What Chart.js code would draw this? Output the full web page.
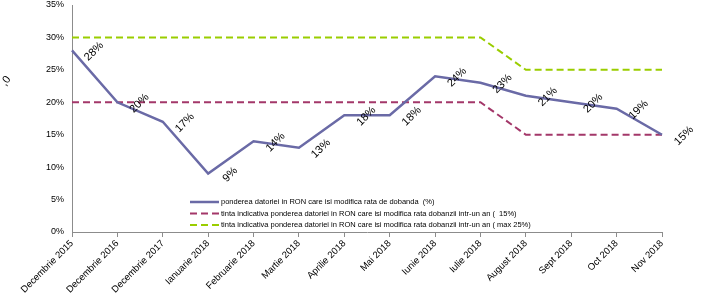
<!DOCTYPE html>
<html lang="ro">
<head>
    <meta charset="UTF-8">
    <script src="https://cdn.jsdelivr.net/npm/chart.js@4.4.0/dist/chart.umd.min.js"></script>
    <title>Ponderea datoriei</title>
    <style>
        body { margin: 0; background: #fff; }
        #wrap { width: 711px; height: 293px; position: relative; }
    </style>
</head>
<body>
    <div id="wrap"><canvas id="myChart" width="711" height="293"></canvas></div>

    <script>
        const luni = ['Decembrie 2015', 'Decembrie 2016', 'Decembrie 2017', 'Ianuarie 2018', 'Februarie 2018',
            'Martie 2018', 'Aprilie 2018', 'Mai 2018', 'Iunie 2018', 'Iulie 2018', 'August 2018',
            'Sept 2018', 'Oct 2018', 'Nov 2018']
        const ponderea = [28, 20, 17, 9, 14, 13, 18, 18, 24, 23, 21, 20, 19, 15]
        const tinta15 = [20, 20, 20, 20, 20, 20, 20, 20, 20, 20, 15, 15, 15, 15]
        const tinta25 = [30, 30, 30, 30, 30, 30, 30, 30, 30, 30, 25, 25, 25, 25]
        const yTicks = [0, 5, 10, 15, 20, 25, 30, 35]

        const etichete = [
            'ponderea datoriei in RON care isi modifica rata de dobanda  (%)',
            'tinta indicativa ponderea datoriei in RON care isi modifica rata dobanzii intr-un an (  15%)',
            'tinta indicativa ponderea datoriei in RON care isi modifica rata dobanzii intr-un an ( max 25%)'
        ]

        const font = 'Liberation Sans, Arial, sans-serif'

        // etichete cu valori, rotite, la dreapta punctului
        const valoriPlugin = {
            id: 'valori',
            afterDatasetsDraw(chart) {
                const ctx = chart.ctx
                const meta = chart.getDatasetMeta(0)
                ctx.save()
                ctx.font = '11px ' + font
                ctx.fillStyle = '#000'
                ctx.textAlign = 'center'
                ctx.textBaseline = 'middle'
                meta.data.forEach((pt, i) => {
                    ctx.save()
                    ctx.translate(pt.x + 22, pt.y + 1)
                    ctx.rotate(-Math.PI / 4)
                    ctx.fillText(ponderea[i] + '%', 0, 0)
                    ctx.restore()
                })
                // rest de titlu taiat in stanga
                ctx.translate(6, 81)
                ctx.rotate(-Math.PI * 0.3)
                ctx.font = '11px ' + font
                ctx.fillText(',0', 0, 0)
                ctx.restore()
            }
        }

        // legenda in interiorul graficului
        const legendaPlugin = {
            id: 'legenda',
            afterDraw(chart) {
                const ctx = chart.ctx
                ctx.save()
                ctx.font = '7.5px ' + font
                ctx.textBaseline = 'middle'
                chart.data.datasets.forEach((ds, i) => {
                    const y = 202 + i * 11.5
                    ctx.beginPath()
                    ctx.strokeStyle = ds.borderColor
                    ctx.lineWidth = ds.borderWidth
                    ctx.setLineDash(ds.borderDash || [])
                    ctx.moveTo(190, y)
                    ctx.lineTo(219, y)
                    ctx.stroke()
                    ctx.setLineDash([])
                    ctx.fillStyle = '#000'
                    ctx.fillText(etichete[i], 221, y)
                })
                ctx.restore()
            }
        }

        const ctx = document.getElementById('myChart').getContext('2d')
        const myChart = new Chart(ctx, {
            type: 'line',
            data: {
                labels: luni,
                datasets: [{
                    label: etichete[0],
                    data: ponderea,
                    borderColor: '#6a6aa6',
                    borderWidth: 2.5,
                    pointRadius: 0,
                    tension: 0
                }, {
                    label: etichete[1],
                    data: tinta15,
                    borderColor: '#a33769',
                    borderWidth: 2,
                    borderDash: [7, 4],
                    pointRadius: 0,
                    tension: 0
                }, {
                    label: etichete[2],
                    data: tinta25,
                    borderColor: '#9acd00',
                    borderWidth: 2,
                    borderDash: [7, 4],
                    pointRadius: 0,
                    tension: 0
                }]
            },
            options: {
                responsive: false,
                animation: false,
                layout: { padding: { top: 5, right: 49, left: 0, bottom: 0 } },
                plugins: {
                    legend: { display: false },
                    tooltip: { enabled: false }
                },
                scales: {
                    x: {
                        offset: false,
                        grid: { display: true, drawOnChartArea: false, drawTicks: true, tickLength: 5, color: '#8c8c8c' },
                        border: { display: true, color: '#8c8c8c', width: 1 },
                        ticks: {
                            color: '#000',
                            font: { family: font, size: 9.5 },
                            minRotation: 45, maxRotation: 45,
                            autoSkip: false,
                            padding: 1
                        },
                        afterFit(scale) {
                            scale.height = 61
                            scale.paddingLeft = 0
                            scale.paddingRight = 0
                        }
                    },
                    y: {
                        min: 0, max: 35,
                        afterBuildTicks(scale) { scale.ticks = yTicks.map(v => ({ value: v })) },
                        grid: { display: false, drawTicks: false },
                        border: { display: true, color: '#8c8c8c', width: 1 },
                        ticks: {
                            color: '#000',
                            font: { family: font, size: 9 },
                            padding: 8,
                            callback: v => v + '%'
                        },
                        afterFit(scale) {
                            scale.width = 72
                            scale.paddingTop = 0
                            scale.paddingBottom = 0
                        }
                    }
                }
            },
            plugins: [valoriPlugin, legendaPlugin]
        })
    </script>
</body>
</html>
